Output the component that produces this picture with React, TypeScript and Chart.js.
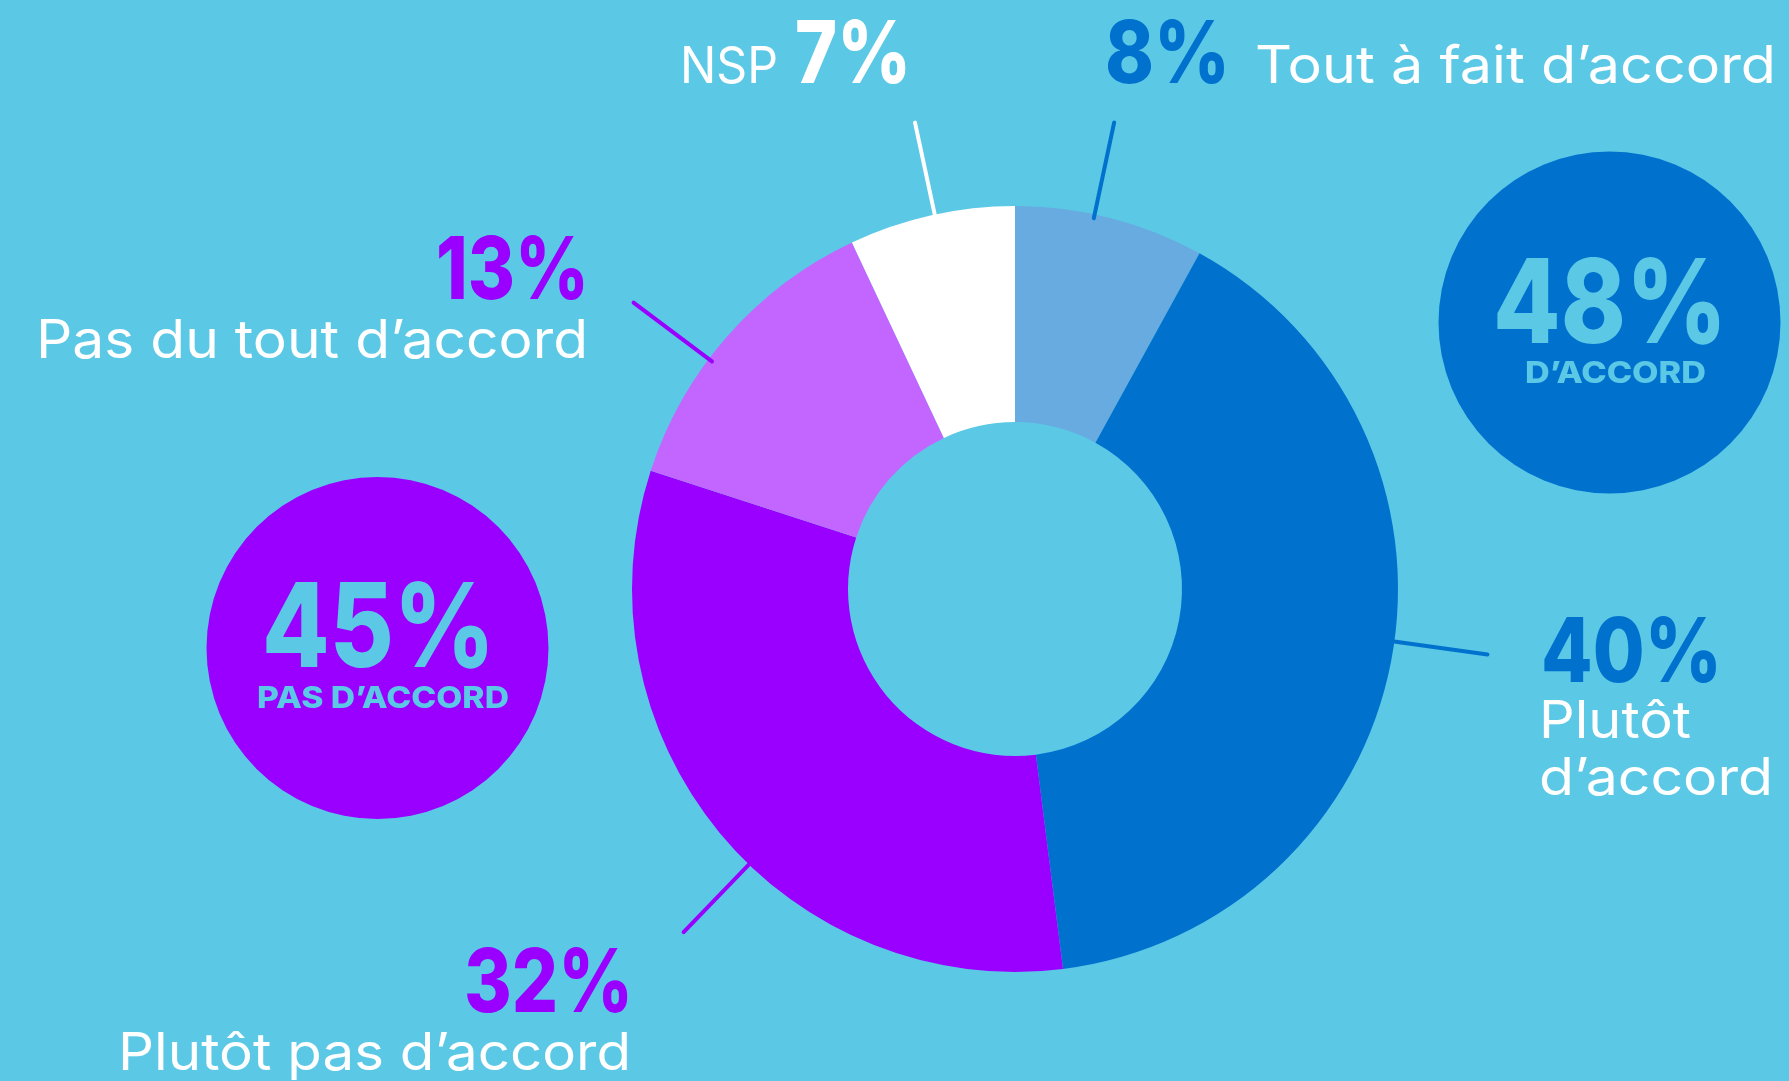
import React, { useEffect, useRef } from "react";
import { Chart, registerables } from "chart.js";

Chart.register(...registerables);

// ---- data ----
const categories = [
  "Tout à fait d’accord",
  "Plutôt d’accord",
  "Plutôt pas d’accord",
  "Pas du tout d’accord",
  "NSP",
];
const values = [8, 40, 32, 13, 7];
const agreeIdx = [0, 1];
const disagreeIdx = [2, 3];
const groupLabels = ["D’ACCORD", "PAS D’ACCORD"];

// ---- styles ----
const BG = "#5bc8e6";
const sliceColors = ["#67abe0", "#0072ce", "#9900ff", "#c266ff", "#ffffff"];
const pctColors = ["#0072ce", "#0072ce", "#9900ff", "#9900ff", "#ffffff"];
const leaderColors = ["#0072ce", "#0072ce", "#9900ff", "#9900ff", "#ffffff"];
const leaderOffsetDeg = [-2.4, -2.9, -6.4, -4.5, 0.5];
const FONT = "Inter, 'Open Sans', sans-serif";

function txt(
  ctx: CanvasRenderingContext2D,
  s: string,
  x: number,
  y: number,
  font: string,
  color: string,
  align: CanvasTextAlign,
  width?: number
) {
  ctx.save();
  ctx.font = font;
  ctx.fillStyle = color;
  ctx.textBaseline = "alphabetic";
  ctx.textAlign = align;
  const m = ctx.measureText(s).width;
  const sx = width ? Math.min(1.25, Math.max(0.8, width / m)) : 1;
  ctx.translate(x, y);
  ctx.scale(sx, 1);
  ctx.fillText(s, 0, 0);
  ctx.restore();
}

const annotations = {
  id: "annotations",
  afterDatasetsDraw(chart: any) {
    const ctx: CanvasRenderingContext2D = chart.ctx;
    const meta = chart.getDatasetMeta(0);
    // leader lines
    meta.data.forEach((arc: any, i: number) => {
      const p = arc.getProps(["x", "y", "startAngle", "endAngle", "outerRadius"], true);
      const a = (p.startAngle + p.endAngle) / 2 + (leaderOffsetDeg[i] * Math.PI) / 180;
      const r0 = p.outerRadius - 4;
      const r1 = p.outerRadius + 94;
      ctx.save();
      ctx.strokeStyle = leaderColors[i];
      ctx.lineWidth = 4;
      ctx.lineCap = "round";
      ctx.beginPath();
      ctx.moveTo(p.x + r0 * Math.cos(a), p.y + r0 * Math.sin(a));
      ctx.lineTo(p.x + r1 * Math.cos(a), p.y + r1 * Math.sin(a));
      ctx.stroke();
      ctx.restore();
    });

    const B = (s: number) => `800 ${s}px ${FONT}`;
    const R = (s: number) => `400 ${s}px ${FONT}`;

    // group circles
    const agree = agreeIdx.reduce((s, i) => s + values[i], 0);
    const disagree = disagreeIdx.reduce((s, i) => s + values[i], 0);
    ctx.save();
    ctx.fillStyle = "#0072ce";
    ctx.beginPath();
    ctx.arc(1609.5, 322.5, 171, 0, Math.PI * 2);
    ctx.fill();
    ctx.fillStyle = "#9900ff";
    ctx.beginPath();
    ctx.arc(377.5, 648, 171, 0, Math.PI * 2);
    ctx.fill();
    ctx.restore();
    txt(ctx, `${agree}%`, 1610, 343, B(117), BG, "center", 234);
    txt(ctx, groupLabels[0], 1615.5, 383, B(30), BG, "center", 181);
    txt(ctx, `${disagree}%`, 378.5, 667, B(117), BG, "center", 233);
    txt(ctx, groupLabels[1], 383, 708, B(30), BG, "center", 252);

    // NSP (top)
    txt(ctx, categories[4], 680, 83, R(51), "#ffffff", "left", 98);
    txt(ctx, `${values[4]}%`, 795, 83, B(86), pctColors[4], "left", 116);
    // Tout à fait d'accord
    txt(ctx, `${values[0]}%`, 1105, 83, B(86), pctColors[0], "left", 125);
    txt(ctx, categories[0], 1255, 83, R(52), "#ffffff", "left", 521);
    // Pas du tout d'accord
    txt(ctx, `${values[3]}%`, 589, 299, B(87), pctColors[3], "right", 153);
    txt(ctx, categories[3], 588, 358, R(53), "#ffffff", "right", 552);
    // Plutôt d'accord
    txt(ctx, `${values[1]}%`, 1541, 682, B(89), pctColors[1], "left", 181);
    txt(ctx, "Plutôt", 1539, 738, R(52), "#ffffff", "left", 152);
    txt(ctx, "d’accord", 1539, 795, R(52), "#ffffff", "left", 234);
    // Plutôt pas d'accord
    txt(ctx, `${values[2]}%`, 633, 1012, B(88), pctColors[2], "right", 169);
    txt(ctx, categories[2], 631, 1070, R(52), "#ffffff", "right", 513);
  },
};

export default function App() {
  const ref = useRef<HTMLCanvasElement | null>(null);
  useEffect(() => {
    document.body.style.margin = "0";
    const canvas = ref.current!;
    const chart = new Chart(canvas, {
      type: "doughnut",
      data: {
        labels: categories,
        datasets: [
          {
            data: values,
            backgroundColor: sliceColors,
            borderWidth: 0,
          },
        ],
      },
      options: {
        responsive: false,
        animation: false,
        devicePixelRatio: 1,
        cutout: "43.6%",
        rotation: 0,
        layout: { padding: { left: 632, right: 391, top: 206, bottom: 109 } },
        plugins: {
          legend: { display: false },
          tooltip: { enabled: false },
        },
      },
      plugins: [annotations],
    });
    return () => chart.destroy();
  }, []);
  return (
    <div style={{ position: "fixed", left: 0, top: 0, width: 1789, height: 1081, background: BG }}>
      <canvas ref={ref} width={1789} height={1081} style={{ display: "block" }} />
    </div>
  );
}
